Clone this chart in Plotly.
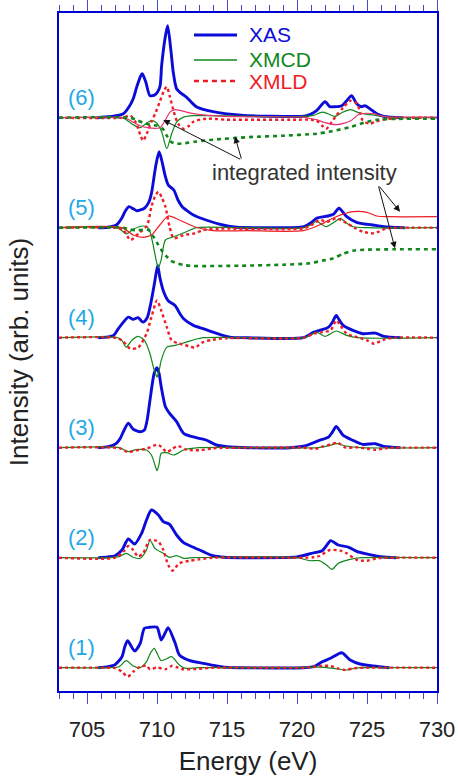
import plotly.graph_objects as go

# ---------------- data (energy eV, intensity arb. units) ----------------
LABELS = ["(1)", "(2)", "(3)", "(4)", "(5)", "(6)"]
OFFSET_STEP = 1.1

XAS1 = [(705.8,0),(706.5,0.01),(707.0,0.03),(707.5,0.11),(707.7,0.21),(707.9,0.27),(708.4,0.167),(708.8,0.244),(709.1,0.394),(709.5,0.404),(710.0,0.404),(710.3,0.277),(710.57,0.344),(710.8,0.40),(711.3,0.244),(711.6,0.127),(712.35,0.07),(713.3,0.044),(714.25,0.017),(715,0.003),(716,0),(720.5,0),(721.2,0.01),(721.8,0.06),(722.4,0.094),(723.2,0.15),(723.8,0.077),(724.5,0.037),(725.45,0.017),(726.6,0)]
XMCD1 = [(703,0),(706.5,0),(707.3,0.01),(707.8,0.07),(708.3,0.017),(708.8,0.0),(709.25,0.06),(709.55,0.15),(709.8,0.194),(710.05,0.13),(710.3,0.07),(710.7,0.09),(711.05,0.11),(711.6,0.027),(712.0,-0.005),(713,0),(720,0),(721.5,0.005),(722.6,-0.006),(723.55,-0.023),(724.2,-0.003),(725,0),(730,0)]
XMLD1 = [(703,0),(706.5,0),(707.0,-0.005),(707.5,-0.04),(707.9,-0.09),(708.3,-0.04),(708.8,0.01),(709.25,0.02),(709.5,-0.016),(710.0,0.003),(710.6,-0.016),(711.05,0.017),(711.5,0.0),(711.9,-0.016),(712.8,-0.013),(714,0),(720.5,0),(721.2,0.01),(721.9,0.02),(722.4,0.017),(722.9,-0.006),(723.45,-0.023),(724.1,-0.005),(725,0),(730,0)]

XAS2 = [(705.8,0),(706.5,0.008),(707.0,0.02),(707.5,0.077),(707.95,0.187),(708.4,0.137),(708.9,0.244),(709.25,0.377),(709.6,0.477),(710.1,0.427),(710.45,0.36),(710.9,0.334),(711.4,0.227),(711.9,0.15),(712.6,0.104),(713.3,0.06),(714,0.02),(714.8,0.004),(716,0),(720.0,0.008),(721.05,0.044),(721.8,0.07),(722.1,0.12),(722.4,0.17),(722.95,0.127),(723.7,0.104),(724.3,0.06),(725.0,0.037),(726,0.01),(727.1,0)]
XMCD2 = [(703,0),(706.5,0),(707.3,0.01),(707.8,0.044),(708.3,0.004),(708.8,-0.006),(709.25,0.077),(709.5,0.177),(709.85,0.094),(710.45,0.044),(710.9,0.004),(711.4,0.02),(711.9,-0.006),(712.5,0),(720.0,0),(720.9,-0.03),(721.6,-0.03),(722.1,-0.073),(722.5,-0.116),(722.95,-0.056),(723.8,-0.016),(724.6,0),(730,0)]
XMLD2 = [(703,0),(707.0,0),(707.6,0.06),(707.95,0.117),(708.3,0.077),(708.65,0.01),(709.0,0.044),(709.5,0.177),(710.1,0.16),(710.45,0.077),(710.8,-0.073),(711.1,-0.13),(711.6,-0.056),(712.35,-0.03),(713,-0.017),(714,0),(720.5,0),(721.2,0.004),(721.6,0.017),(722.35,0.077),(723.1,0.07),(723.55,0.044),(724.3,-0.023),(725,-0.03),(725.7,-0.006),(727,0),(730,0)]

XAS3 = [(705.8,0),(706.5,0.01),(707.1,0.044),(707.4,0.10),(707.6,0.16),(707.95,0.244),(708.3,0.184),(708.8,0.16),(709.1,0.177),(709.3,0.28),(709.5,0.477),(709.8,0.744),(710.0,0.80),(710.15,0.74),(710.3,0.61),(710.6,0.41),(710.9,0.344),(711.4,0.26),(711.9,0.144),(712.8,0.10),(713.5,0.077),(714.25,0.027),(715,0.01),(716.5,0),(719.5,0),(720.7,0.023),(721.6,0.073),(722.25,0.106),(722.55,0.16),(722.8,0.213),(723.05,0.17),(723.3,0.123),(724.0,0.073),(724.7,0.033),(725.6,0.04),(726.2,0.013),(727.4,0)]
XMCD3 = [(703,0),(707.3,0),(707.95,-0.04),(708.5,-0.02),(709.25,-0.023),(709.6,-0.073),(709.85,-0.17),(710.0,-0.23),(710.15,-0.16),(710.3,-0.056),(710.7,-0.05),(711.2,-0.073),(711.9,-0.023),(713.0,0),(721.5,0),(722.3,0.02),(722.8,0.04),(723.5,0.017),(724.5,0),(730,0)]
XMLD3 = [(703,0),(707.3,-0.005),(707.95,-0.045),(708.5,-0.027),(709.25,-0.01),(710.0,0.03),(710.3,0.01),(710.7,-0.044),(711.1,-0.01),(711.5,0.017),(712.1,-0.02),(713.1,-0.025),(714,-0.006),(716,0),(720.5,0),(721.3,-0.013),(721.8,0.01),(722.4,0.033),(722.9,0.05),(723.5,0.0),(724.2,0.005),(725.0,-0.01),(725.6,-0.02),(726.3,-0.005),(727,0),(730,0)]

XAS4 = [(705.8,0),(706.5,0.008),(706.9,0.023),(707.24,0.09),(707.6,0.156),(707.95,0.206),(708.3,0.183),(708.65,0.20),(709.0,0.156),(709.3,0.20),(709.5,0.306),(709.7,0.45),(709.85,0.57),(710.05,0.723),(710.2,0.606),(710.45,0.47),(710.8,0.37),(711.3,0.32),(711.64,0.24),(711.9,0.19),(712.6,0.123),(713.3,0.09),(714.0,0.056),(715.2,0.006),(716.5,0),(720.45,0),(721.2,0.056),(721.8,0.08),(722.25,0.106),(722.55,0.16),(722.8,0.223),(723.05,0.17),(723.3,0.123),(724.0,0.073),(724.7,0.04),(725.6,0.046),(726.2,0.013),(727.4,0)]
XMCD4 = [(703,0),(707.2,0),(707.5,-0.03),(707.8,-0.094),(708.2,-0.027),(708.65,0.013),(709.1,-0.027),(709.5,-0.16),(709.75,-0.30),(709.9,-0.36),(710.0,-0.394),(710.15,-0.33),(710.3,-0.227),(710.7,-0.094),(711.3,-0.077),(712.1,-0.044),(713.3,0),(720.5,0),(721.0,0.03),(721.4,0.056),(722.0,0.013),(722.8,0.067),(723.55,0.023),(724.3,0),(730,0)]
XMLD4 = [(703,0),(707.2,-0.005),(707.6,-0.04),(708.1,-0.11),(708.65,-0.10),(709.25,0.04),(709.6,0.206),(710.0,0.373),(710.3,0.273),(710.7,0.106),(711.05,-0.027),(711.6,-0.06),(712.35,-0.087),(712.7,-0.10),(713.3,-0.044),(714,-0.02),(715,-0.005),(720.5,0),(721.2,0.04),(721.8,0.056),(722.4,0.073),(722.8,0.173),(723.1,0.123),(723.55,0.04),(724.3,0.006),(725.0,-0.027),(725.5,-0.06),(726.2,-0.02),(727,0),(730,0)]

XAS5 = [(705.8,0),(706.5,0.005),(707.1,0.027),(707.5,0.10),(707.75,0.17),(708.0,0.21),(708.3,0.19),(708.55,0.17),(709.1,0.194),(709.4,0.25),(709.6,0.34),(709.9,0.61),(710.15,0.76),(710.33,0.677),(710.6,0.51),(710.8,0.427),(711.2,0.377),(711.5,0.277),(711.8,0.21),(712.2,0.165),(712.6,0.127),(713.5,0.077),(714.7,0.027),(715.7,0.004),(717,0),(720.5,0.01),(721.0,0.05),(721.4,0.094),(722.2,0.117),(722.6,0.134),(723.0,0.194),(723.55,0.11),(724.3,0.05),(724.85,0.037),(725.3,0.03),(726.2,0.01),(727.7,0)]
XMCD5 = [(703,0),(707.2,0),(707.5,-0.03),(707.8,-0.063),(708.3,-0.016),(709.0,0.017),(709.4,-0.006),(709.7,-0.156),(709.95,-0.33),(710.1,-0.40),(710.3,-0.32),(710.6,-0.123),(711.2,-0.09),(712.1,-0.04),(712.8,0),(716,0),(720.5,0),(721.0,0.03),(721.4,0.067),(721.7,0.04),(722.1,0.01),(722.6,0.05),(723.1,0.094),(723.5,0.05),(724.0,0.01),(725,0),(730,0)]
XMLD5 = [(703,0),(707.0,0),(707.6,-0.023),(708.1,-0.123),(708.7,-0.056),(709.3,0.027),(709.6,0.21),(709.85,0.31),(710.1,0.36),(710.35,0.30),(710.6,0.21),(710.9,0.01),(711.2,-0.106),(711.9,-0.073),(712.7,-0.056),(713.3,-0.023),(714.5,-0.01),(720.5,-0.005),(721.2,0.04),(721.6,0.077),(722.2,0.06),(722.8,0.094),(723.5,0.05),(724.1,0.0),(724.7,-0.04),(725.5,-0.056),(726.4,-0.006),(727,0),(730,0)]
INT_RED5 = [(703,0),(707.5,0),(708.3,-0.073),(709.0,-0.096),(709.6,-0.073),(710.2,0.027),(710.8,0.117),(711.6,0.077),(712.8,0.004),(714.0,-0.03),(716.4,-0.03),(720.45,-0.03),(721.6,0.027),(722.8,0.11),(724.0,0.16),(725.0,0.154),(725.7,0.117),(726.5,0.11),(730,0.11)]
INT_GREEN5 = [(703,0),(707.5,0),(708.0,-0.015),(708.5,-0.025),(709.0,-0.02),(709.4,-0.025),(709.7,-0.08),(710.0,-0.15),(710.3,-0.22),(710.7,-0.29),(711.0,-0.33),(711.4,-0.356),(712,-0.375),(712.6,-0.383),(716,-0.38),(719,-0.37),(720.9,-0.356),(721.8,-0.33),(722.6,-0.306),(723.3,-0.26),(724,-0.23),(725,-0.22),(727,-0.216),(730,-0.216)]

XAS6 = [(705.7,0),(706.5,0.01),(706.9,0.016),(707.6,0.04),(708.05,0.12),(708.3,0.19),(708.55,0.306),(708.8,0.406),(708.95,0.44),(709.2,0.356),(709.5,0.22),(709.86,0.23),(710.2,0.306),(710.33,0.52),(710.57,0.79),(710.76,0.92),(710.98,0.69),(711.16,0.456),(711.4,0.29),(711.76,0.24),(712.1,0.206),(712.8,0.11),(714.0,0.06),(716.0,0.025),(718,0.015),(720.5,0.015),(720.9,0.03),(721.4,0.07),(722.0,0.16),(722.35,0.11),(722.7,0.11),(723.2,0.12),(723.55,0.17),(723.9,0.22),(724.26,0.14),(724.6,0.11),(724.86,0.12),(725.2,0.09),(725.7,0.04),(726.2,0.013),(727.6,0)]
XMCD6 = [(703,0),(707.5,0),(707.8,-0.02),(708.3,-0.07),(708.8,-0.10),(709.2,-0.06),(709.6,-0.03),(709.95,-0.05),(710.33,-0.14),(710.7,-0.31),(711.05,-0.16),(711.4,-0.044),(711.9,0.006),(712.6,0.02),(713.5,0.02),(716,0.015),(720,0.01),(721.1,0.02),(721.8,0.055),(722.2,0.04),(722.7,0.013),(723.2,0.05),(723.8,0.08),(724.5,0.046),(725.6,0.023),(726.5,0.005),(730,0)]
XMLD6 = [(703,0),(707.5,0),(708.1,0.02),(708.5,-0.05),(708.8,-0.17),(709.0,-0.23),(709.3,-0.15),(709.6,-0.04),(709.9,0.05),(710.2,0.16),(710.5,0.27),(710.7,0.31),(710.9,0.22),(711.2,0.06),(711.5,-0.06),(711.9,-0.11),(712.3,-0.08),(712.6,-0.04),(713.5,-0.01),(715,-0.02),(720,-0.02),(721.0,-0.02),(721.4,-0.03),(721.8,-0.08),(722.1,-0.11),(722.5,-0.04),(722.8,0.02),(723.3,0.10),(723.8,0.17),(724.3,0.14),(724.5,0.05),(724.7,-0.03),(725.2,-0.06),(725.6,-0.04),(726.1,-0.02),(727,-0.005),(730,0)]
INT_RED6 = [(703,0),(707.5,0),(708.0,-0.02),(708.3,-0.045),(708.8,-0.08),(709.3,-0.10),(710.2,-0.10),(710.57,-0.03),(710.93,0.056),(711.3,0.08),(712.1,0.056),(713.1,0.03),(714.5,0.016),(716,0.01),(720.5,0.005),(721.0,-0.01),(721.4,-0.02),(722.0,-0.05),(722.8,-0.07),(723.4,-0.055),(723.8,-0.034),(724.2,0.01),(724.5,0.04),(725.5,0.04),(725.9,0.02),(726.5,0.008),(730,0.006)]
INT_GREEN6 = [(703,0),(708.0,0),(708.5,-0.02),(709.0,-0.05),(709.5,-0.07),(710.0,-0.08),(710.4,-0.11),(710.7,-0.18),(711.0,-0.24),(711.3,-0.26),(712.0,-0.255),(712.7,-0.24),(714,-0.22),(716.6,-0.194),(719,-0.18),(721.4,-0.16),(722.5,-0.135),(723.8,-0.094),(724.8,-0.05),(725.7,-0.02),(727,-0.012),(730,-0.01)]

SPECTRA = [(XAS1, XMCD1, XMLD1), (XAS2, XMCD2, XMLD2), (XAS3, XMCD3, XMLD3),
           (XAS4, XMCD4, XMLD4), (XAS5, XMCD5, XMLD5), (XAS6, XMCD6, XMLD6)]
INTEGRATED = {5: (INT_RED5, INT_GREEN5), 6: (INT_RED6, INT_GREEN6)}

# ---------------- styles ----------------
BLUE = "#0c0cd8"
GREEN = "#10861c"
RED = "#ee1c24"
PINK = "#e8336f"
FRAME = "#0000d0"
TICKC = "#4a4ad0"
LBLUE = "#1fa8e6"
FONT = "Liberation Sans, Arial, Helvetica, sans-serif"


def xy(pairs, off):
    return [p[0] for p in pairs], [p[1] + off for p in pairs]


fig = go.Figure()
for k, (xas, xmcd, xmld) in enumerate(SPECTRA, start=1):
    off = (k - 1) * OFFSET_STEP
    x, y = xy(xas, off)
    fig.add_trace(go.Scatter(x=x, y=y, mode="lines", line=dict(color=BLUE, width=2.9, shape="spline", smoothing=0.7), showlegend=False))
    x, y = xy(xmcd, off)
    fig.add_trace(go.Scatter(x=x, y=y, mode="lines", line=dict(color=GREEN, width=1.2, shape="spline", smoothing=0.7), showlegend=False))
    x, y = xy(xmld, off)
    fig.add_trace(go.Scatter(x=x, y=y, mode="lines", line=dict(color=RED, width=2.4, dash="3px,3px", shape="spline", smoothing=0.7), showlegend=False))
    if k in INTEGRATED:
        red, green = INTEGRATED[k]
        x, y = xy(red, off)
        fig.add_trace(go.Scatter(x=x, y=y, mode="lines", line=dict(color=PINK if k == 6 else RED, width=1.2, shape="spline", smoothing=0.7), showlegend=False))
        x, y = xy(green, off)
        fig.add_trace(go.Scatter(x=x, y=y, mode="lines", line=dict(color=GREEN, width=2.6, dash="4px,4px", shape="spline", smoothing=0.7), showlegend=False))
    fig.add_annotation(x=704.64, y=off + 0.2, text=LABELS[k - 1], showarrow=False,
                       font=dict(family=FONT, size=22, color=LBLUE), xanchor="center", yanchor="middle")

# legend (manual, colored text)
leg = [("XAS", BLUE, 2.9, None, 0.9676), ("XMCD", GREEN, 1.4, None, 0.9307), ("XMLD", RED, 2.4, "5px,4px", 0.8997)]
for name, col, w, dash, yy in leg:
    fig.add_shape(type="line", xref="paper", yref="paper", x0=0.357, x1=0.471, y0=yy, y1=yy,
                  line=dict(color=col, width=w, dash=dash))
    fig.add_annotation(xref="paper", yref="paper", x=0.497, y=yy, text=name, showarrow=False, height=21,
                       xanchor="left", yanchor="middle", font=dict(family=FONT, size=21, color=col))

# integrated intensity annotation and arrows
fig.add_annotation(x=720.57, y=4.957, text="integrated intensity", showarrow=False,
                   font=dict(family=FONT, size=22, color="#333333"))
for (hx, hy, tx, ty) in [(710.45, 5.477, 716.05, 5.077), (715.57, 5.31, 716.05, 5.077),
                         (727.36, 4.56, 725.8, 4.827), (727.0, 4.194, 725.8, 4.827)]:
    fig.add_annotation(x=hx, y=hy, ax=tx, ay=ty, xref="x", yref="y", axref="x", ayref="y",
                       text="", showarrow=True, arrowhead=2, arrowsize=1.3, arrowwidth=1, arrowcolor="#111111")

fig.update_layout(
    width=458, height=777,
    margin=dict(l=59, r=21, t=13, b=86, autoexpand=False),
    paper_bgcolor="white", plot_bgcolor="white",
    font=dict(family=FONT, color="#222222"),
    xaxis=dict(range=[703, 730], tickvals=[705, 710, 715, 720, 725, 730], ticks="outside", ticklen=11,
               tickwidth=1, tickcolor=TICKC, minor=dict(dtick=1, ticks="outside", ticklen=6, tickwidth=1, tickcolor=TICKC),
               showline=True, linecolor=FRAME, linewidth=2, mirror="ticks", showgrid=False, zeroline=False,
               automargin=False, ticklabelstandoff=7,
               tickfont=dict(size=22, family=FONT, color="#222222"),
               title=dict(text="Energy (eV)", font=dict(size=26, family=FONT, color="#222222"), standoff=10)),
    yaxis=dict(range=[-0.233, 6.547], showticklabels=False, ticks="", showline=True, linecolor=FRAME, linewidth=2,
               mirror=True, showgrid=False, zeroline=False, automargin=False,
               title=dict(text="Intensity (arb. units)", font=dict(size=26, family=FONT, color="#222222"), standoff=21)),
)

fig.write_html("out.html", config={"displayModeBar": False}, post_script="document.body.style.margin='0px';")
